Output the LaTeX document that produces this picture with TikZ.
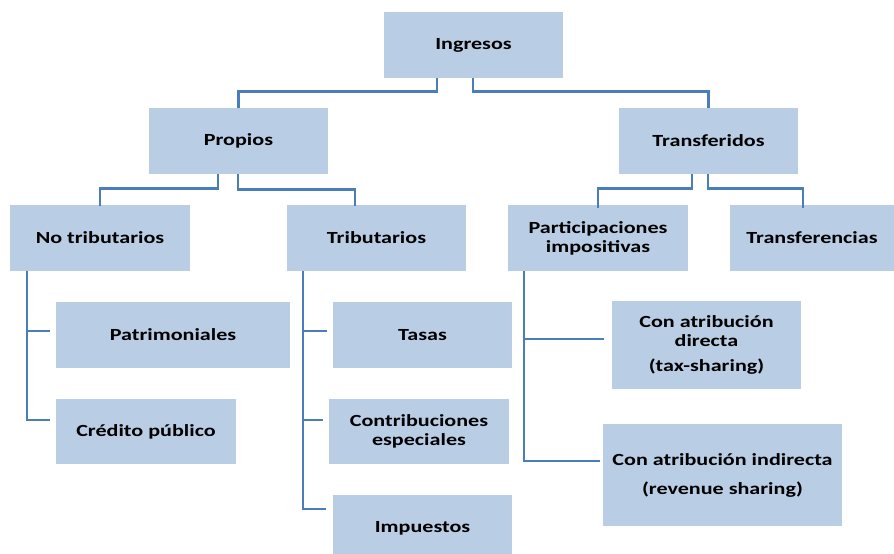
\documentclass[tikz,border=0pt]{standalone}
\usepackage{fontspec}
\setmainfont{Carlito}[FakeStretch=1.3]
\definecolor{boxfill}{HTML}{B9CDE5}
\definecolor{linecol}{HTML}{4A7EBB}
\tikzset{
  box/.style={fill=boxfill, draw=none, inner sep=2pt, align=center,
    font=\fontsize{17}{19}\selectfont\bfseries, text=black},
  conn/.style={draw=linecol, line width=2.6pt, line cap=butt, line join=miter},
}
\begin{document}
\begin{tikzpicture}[x=1pt,y=-1pt]
\useasboundingbox[fill=white] (0,0) rectangle (894,554);
% level 0
\node[box, minimum width=179, minimum height=66] (ing) at (473.5,45) {Ingresos};
% level 1
\node[box, minimum width=179, minimum height=66] (prop) at (238.5,141) {Propios};
\node[box, minimum width=179, minimum height=66] (trans) at (708.5,141) {Transferidos};
% level 2
\node[box, minimum width=180, minimum height=66] (notrib) at (100,238) {No tributarios};
\node[box, minimum width=179, minimum height=66] (trib) at (376.5,238) {Tributarios};
\node[box, minimum width=180, minimum height=66] (part) at (598,238) {Participaciones\\impositivas};
\node[box, minimum width=164, minimum height=66] (transf) at (812,238) {Transferencias};
% level 3
\node[box, minimum width=234, minimum height=66] (patr) at (173,335) {Patrimoniales};
\node[box, minimum width=180, minimum height=65] (cred) at (146,431.5) {Crédito público};
\node[box, minimum width=179, minimum height=66] (tasas) at (422.5,335) {Tasas};
\node[box, minimum width=180, minimum height=65] (contrib) at (419,431.5) {Contribuciones\\especiales};
\node[box, minimum width=179, minimum height=66] (impu) at (422.5,528) {Impuestos};
\node[box, minimum width=189, minimum height=88] (cad) at (706.5,345) {Con atribución\\directa\\[6pt](tax-sharing)};
\node[box, minimum width=239, minimum height=102] (cai) at (722.5,475) {Con atribución indirecta\\[10pt](revenue sharing)};
% connectors level 0 -> 1
\draw[conn] ([xshift=-36.5]ing.south) -- ++(0,13) -| (prop.north);
\draw[conn] ([xshift=-0.5]ing.south) -- ++(0,13) -| (trans.north);
% level 1 -> 2
\draw[conn] ([xshift=-20.5]prop.south) -- ++(0,14) -| ([yshift=-1]notrib.north);
\draw[conn] ([xshift=-0.5]prop.south) -- ++(0,15) -| ([yshift=-1]trib.north -| 355,0);
\draw[conn] ([xshift=-16.5]trans.south) -- ++(0,14) -| ([yshift=-3]part.north);
\draw[conn] ([xshift=-0.5]trans.south) -- ++(0,14) -| ([yshift=-3]transf.north -| 803,0);
% level 2 -> 3
\draw[conn] ([xshift=17]notrib.south west) coordinate (nt) |- ([xshift=-6]cred.west |- 0,420);
\draw[conn] (nt |- 0,331) -- ([xshift=-6]patr.west |- 0,331);
\draw[conn] ([xshift=16]trib.south west) coordinate (tr) |- ([xshift=-7]impu.west |- 0,509);
\draw[conn] (tr |- 0,331) -- ([xshift=-6]tasas.west |- 0,331);
\draw[conn] (tr |- 0,420) -- ([xshift=-6]contrib.west |- 0,420);
\draw[conn] ([xshift=16]part.south west) coordinate (pa) |- ([xshift=-3]cai.west |- 0,461);
\draw[conn] (pa |- 0,339) -- ([xshift=-8]cad.west |- 0,339);
\end{tikzpicture}
\end{document}
